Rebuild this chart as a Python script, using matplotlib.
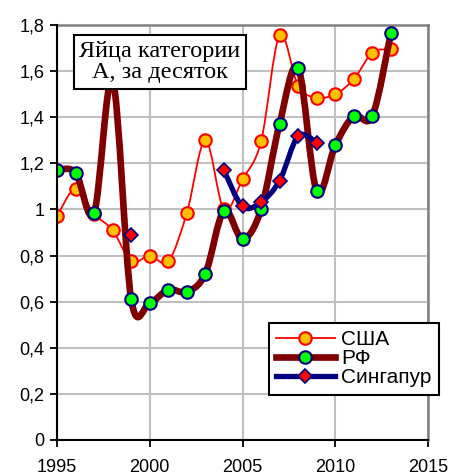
import numpy as np
import matplotlib
matplotlib.use("Agg")
import matplotlib.pyplot as plt
from matplotlib.path import Path
from matplotlib.patches import PathPatch
from matplotlib.lines import Line2D

years = list(range(1995, 2014))
usa = [0.97, 1.09, 0.98, 0.91, 0.775, 0.80, 0.775, 0.985, 1.30, 1.00, 1.13,
       1.295, 1.755, 1.535, 1.485, 1.50, 1.565, 1.68, 1.695]
rf = [1.17, 1.16, 0.985, 1.56, 0.61, 0.595, 0.652, 0.643, 0.722, 0.995, 0.872,
      1.0, 1.372, 1.615, 1.08, 1.278, 1.405, 1.405, 1.765]
sgp = [None, None, None, None, 0.89, None, None, None, None, 1.17, 1.013,
       1.032, 1.125, 1.318, 1.29, None, None, None, None]
series_names = ["США", "РФ", "Сингапур"]
title_text = "Яйца категории\nА, за десяток"
yticks = [0, 0.2, 0.4, 0.6, 0.8, 1.0, 1.2, 1.4, 1.6, 1.8]
ytick_labels = ["0", "0,2", "0,4", "0,6", "0,8", "1", "1,2", "1,4", "1,6", "1,8"]
xticks = [1995, 2000, 2005, 2010, 2015]

fig = plt.figure(figsize=(4.52, 4.75), dpi=100)
ax = fig.add_axes([57/452, 1-440/475, (428-57)/452, (440-25)/475])
ax.set_xlim(1995, 2015)
ax.set_ylim(0, 1.8)


def smooth_path(xs, ys):
    pts = [(x, y) for x, y in zip(xs, ys)]
    verts = [pts[0]]
    codes = [Path.MOVETO]
    n = len(pts)
    for i in range(n - 1):
        p0 = pts[i - 1] if i > 0 else pts[i]
        p1 = pts[i]
        p2 = pts[i + 1]
        p3 = pts[i + 2] if i + 2 < n else pts[i + 1]
        c1 = (p1[0] + (p2[0] - p0[0]) / 6, p1[1] + (p2[1] - p0[1]) / 6)
        c2 = (p2[0] - (p3[0] - p1[0]) / 6, p2[1] - (p3[1] - p1[1]) / 6)
        verts += [c1, c2, p2]
        codes += [Path.CURVE4] * 3
    return Path(verts, codes)


def segments(xs, ys):
    segs, cur = [], []
    for x, y in zip(xs, ys):
        if y is None:
            if cur:
                segs.append(cur)
            cur = []
        else:
            cur.append((x, y))
    if cur:
        segs.append(cur)
    return segs


styles = [
    dict(color="#FF0000", lw=1.3, marker="o", ms=9, mfc="#FFC000", mec="#FF0000", mew=1.5),
    dict(color="#800000", lw=4.8, marker="o", ms=9, mfc="#00FF00", mec="#000080", mew=1.5),
    dict(color="#000080", lw=3.8, marker="D", ms=7, mfc="#FF0000", mec="#000080", mew=1.2),
]
data = [usa, rf, sgp]

for z, (vals, st) in enumerate(zip(data, styles)):
    for seg in segments(years, vals):
        sx = [p[0] for p in seg]
        sy = [p[1] for p in seg]
        if len(seg) > 1:
            patch = PathPatch(smooth_path(sx, sy), facecolor="none", edgecolor=st["color"],
                              lw=st["lw"], zorder=3 + z, capstyle="round", joinstyle="round")
            ax.add_patch(patch)
        ax.plot(sx, sy, ls="none", marker=st["marker"], ms=st["ms"], mfc=st["mfc"],
                mec=st["mec"], mew=st["mew"], zorder=3.5 + z)

ax.set_yticks(yticks)
ax.set_yticklabels(ytick_labels)
ax.set_xticks(xticks)
ax.set_xticklabels([str(x) for x in xticks])
for lbl in ax.get_xticklabels() + ax.get_yticklabels():
    lbl.set_fontfamily("Liberation Sans")
    lbl.set_fontsize(13)
ax.tick_params(axis="both", direction="out", length=5, width=1.3, color="black")
ax.tick_params(axis="x", pad=8.5)
ax.tick_params(axis="y", pad=4)
ax.grid(True, color="#C0C0C0", lw=1.5)
ax.set_axisbelow(True)
for s in ["top", "right"]:
    ax.spines[s].set_color("#808080")
    ax.spines[s].set_linewidth(1.8)
for s in ["left", "bottom"]:
    ax.spines[s].set_color("black")
    ax.spines[s].set_linewidth(1.5)
    ax.spines[s].set_zorder(10)

# title box
ax.text(160/452, 1-62/475, title_text, transform=fig.transFigure, ha="center", va="center",
        family="Liberation Serif", fontsize=17.5, linespacing=1.05, zorder=20,
        bbox=dict(boxstyle="square,pad=0.22", facecolor="white", edgecolor="black", lw=1.5))

handles = [Line2D([], [], color=st["color"], lw=st["lw"], marker=st["marker"], ms=st["ms"],
                  mfc=st["mfc"], mec=st["mec"], mew=st["mew"]) for st in styles]
leg = fig.legend(handles, series_names, loc="upper left", bbox_to_anchor=(269/452, 1-323/475),
                 bbox_transform=fig.transFigure, prop=dict(family="Liberation Sans", size=15),
                 handlelength=2.8, numpoints=1, fancybox=False, framealpha=1, edgecolor="black",
                 borderpad=0.35, labelspacing=0.0, handletextpad=0.3, borderaxespad=0)
leg.get_frame().set_linewidth(1.5)
leg.set_zorder(30)

fig.savefig("out.png", dpi=100)
